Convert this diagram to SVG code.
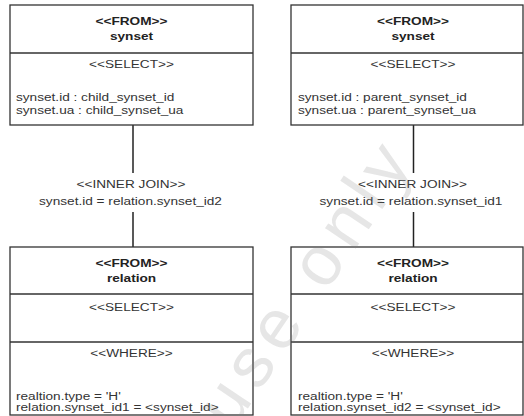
<svg xmlns="http://www.w3.org/2000/svg" width="524" height="416" viewBox="0 0 524 416">
<style>
  text { font-family: "Liberation Sans", Arial, sans-serif; font-size: 11px; fill: #333333; }
  .b { font-weight: bold; fill: #222222; }
  .c { text-anchor: middle; }
  .box { fill: #ffffff; stroke: #333333; stroke-width: 1.3; }
  .div { stroke: #333333; stroke-width: 1.3; fill: none; }
  .conn { stroke: #222222; stroke-width: 1.5; fill: none; }
  .wm { font-family: "Liberation Sans", Arial, sans-serif; font-size: 70px; fill: #808080; fill-opacity: 0.2; letter-spacing: 9px; }
</style>
<rect width="524" height="416" fill="#ffffff"/>

<g id="connectors">
  <line class="conn" x1="133" y1="125" x2="133" y2="173"/>
  <line class="conn" x1="133" y1="212" x2="133" y2="247"/>
  <line class="conn" x1="413.5" y1="125" x2="413.5" y2="173"/>
  <line class="conn" x1="413.5" y1="212" x2="413.5" y2="247"/>
  <g id="join-left">
    <text class="c" transform="translate(131,187.5) scale(1.24,1)">&lt;&lt;INNER JOIN&gt;&gt;</text>
    <text class="c" transform="translate(130.5,204.5) scale(1.24,1)">synset.id = relation.synset_id2</text>
  </g>
  <g id="join-right">
    <text class="c" transform="translate(412.5,187.5) scale(1.24,1)">&lt;&lt;INNER JOIN&gt;&gt;</text>
    <text class="c" transform="translate(411,204.5) scale(1.24,1)">synset.id = relation.synset_id1</text>
  </g>
</g>

<g id="synset-left">
  <rect class="box" x="10" y="5" width="243" height="120"/>
  <line class="div" x1="10" y1="53" x2="253" y2="53"/>
  <text class="b c" transform="translate(131.5,25) scale(1.24,1)">&lt;&lt;FROM&gt;&gt;</text>
  <text class="b c" transform="translate(131.5,40) scale(1.24,1)">synset</text>
  <text class="c" transform="translate(131.5,67.5) scale(1.24,1)">&lt;&lt;SELECT&gt;&gt;</text>
  <text transform="translate(16,101) scale(1.24,1)">synset.id : child_synset_id</text>
  <text transform="translate(16,114) scale(1.24,1)">synset.ua : child_synset_ua</text>
</g>

<g id="synset-right">
  <rect class="box" x="291" y="5" width="232" height="120"/>
  <line class="div" x1="291" y1="53" x2="523" y2="53"/>
  <text class="b c" transform="translate(413,25) scale(1.24,1)">&lt;&lt;FROM&gt;&gt;</text>
  <text class="b c" transform="translate(413,40) scale(1.24,1)">synset</text>
  <text class="c" transform="translate(413,67.5) scale(1.24,1)">&lt;&lt;SELECT&gt;&gt;</text>
  <text transform="translate(298,101) scale(1.24,1)">synset.id : parent_synset_id</text>
  <text transform="translate(298,114) scale(1.24,1)">synset.ua : parent_synset_ua</text>
</g>

<g id="relation-left">
  <rect class="box" x="10" y="247" width="243" height="168"/>
  <line class="div" x1="10" y1="294" x2="253" y2="294"/>
  <line class="div" x1="10" y1="342" x2="253" y2="342"/>
  <text class="b c" transform="translate(131.5,266.5) scale(1.24,1)">&lt;&lt;FROM&gt;&gt;</text>
  <text class="b c" transform="translate(131.5,282) scale(1.24,1)">relation</text>
  <text class="c" transform="translate(131.5,311) scale(1.24,1)">&lt;&lt;SELECT&gt;&gt;</text>
  <text class="c" transform="translate(131.5,356.5) scale(1.24,1)">&lt;&lt;WHERE&gt;&gt;</text>
  <text transform="translate(16,400) scale(1.24,1)">realtion.type = 'H'</text>
  <text transform="translate(16,411) scale(1.24,1)">relation.synset_id1 = &lt;synset_id&gt;</text>
</g>

<g id="relation-right">
  <rect class="box" x="291" y="247" width="232" height="168"/>
  <line class="div" x1="291" y1="294" x2="523" y2="294"/>
  <line class="div" x1="291" y1="342" x2="523" y2="342"/>
  <text class="b c" transform="translate(413,266.5) scale(1.24,1)">&lt;&lt;FROM&gt;&gt;</text>
  <text class="b c" transform="translate(413,282) scale(1.24,1)">relation</text>
  <text class="c" transform="translate(413,311) scale(1.24,1)">&lt;&lt;SELECT&gt;&gt;</text>
  <text class="c" transform="translate(413,356.5) scale(1.24,1)">&lt;&lt;WHERE&gt;&gt;</text>
  <text transform="translate(298,400) scale(1.24,1)">realtion.type = 'H'</text>
  <text transform="translate(298,411) scale(1.24,1)">relation.synset_id2 = &lt;synset_id&gt;</text>
</g>

<text class="wm" transform="translate(232,432) rotate(-56)">use only</text>
</svg>
